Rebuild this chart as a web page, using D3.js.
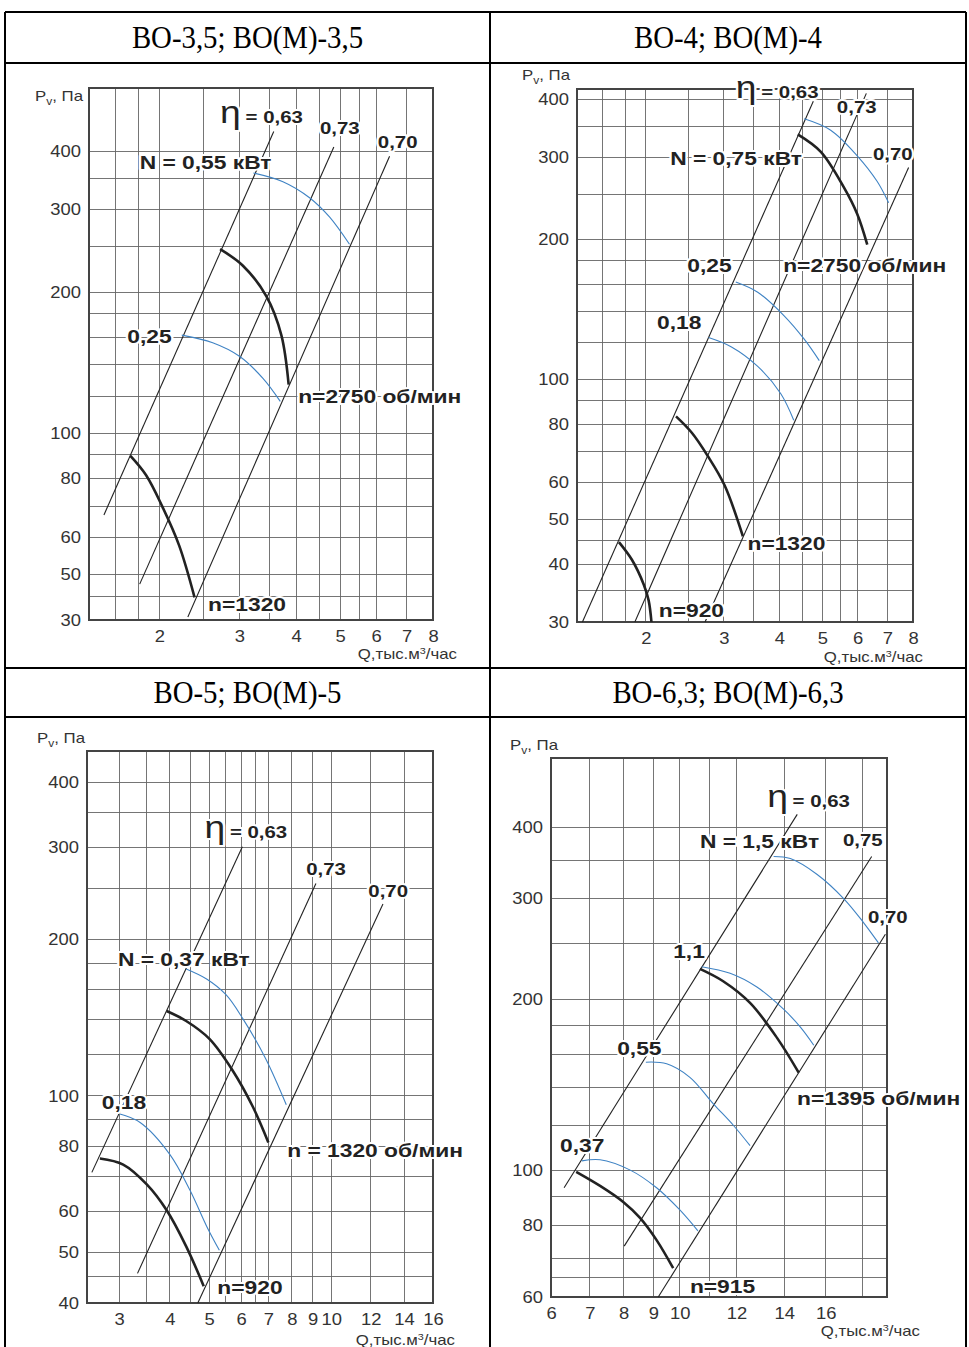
<!DOCTYPE html>
<html lang="ru">
<head>
<meta charset="utf-8">
<title>ВО — аэродинамические характеристики</title>
<script src="https://d3js.org/d3.v7.min.js"></script>
<style>
  body { margin: 0; background: #fff; }
  svg { display: block; }
  .grid line { stroke: #666; stroke-width: 0.9; shape-rendering: crispEdges; }
  .frame { fill: none; stroke: #444; stroke-width: 1.4; shape-rendering: crispEdges; }
  .eta { fill: none; stroke: #222; stroke-width: 1.1; }
  .pq { fill: none; stroke: #222; stroke-width: 2.6; }
  .pw { fill: none; stroke: #3f83c4; stroke-width: 1.1; }
  .tick text { font-family: "Liberation Sans", Arial, sans-serif; font-size: 16px; fill: #333; }
  .lbl { font-family: "Liberation Sans", Arial, sans-serif; font-weight: bold; fill: #222;
         stroke: #fff; stroke-width: 4; paint-order: stroke; stroke-linejoin: round; }
  .ttl { font-family: "Liberation Serif", "Times New Roman", serif; font-size: 32px; fill: #000; }
  .unit { font-family: "Liberation Sans", Arial, sans-serif; font-size: 14px; fill: #333; }
</style>
</head>
<body>
<script>

var titles = ["ВО-3,5; ВО(М)-3,5", "ВО-4; ВО(М)-4", "ВО-5; ВО(М)-5", "ВО-6,3; ВО(М)-6,3"];

// ВО-3,5
var p1XDomain = [1.4, 8];
var p1YDomain = [40, 545];
var p1XTicks = [2, 3, 4, 5, 6, 7, 8];
var p1YTicks = [40, 50, 60, 80, 100, 200, 300, 400];
var p1YTickLabels = ["30", "50", "60", "80", "100", "200", "300", "400"];
var p1XGrid = [1.6, 1.8, 2, 2.5, 3, 3.5, 4, 4.5, 5, 5.5, 6, 7];
var p1YGrid = [45, 50, 60, 70, 80, 90, 100, 120, 140, 160, 180, 200, 250, 300, 350, 400];
var p1Eta = [[[1.51, 67], [3.57, 440]], [[1.81, 47.7], [4.84, 408]], [[2.31, 40.6], [6.42, 390]]];
var p1Speed = [[[2.72, 247], [3.05, 228], [3.44, 196], [3.71, 162], [3.85, 127]],
               [[1.727, 89.5], [1.87, 81.4], [2.03, 69.8], [2.21, 57.7], [2.39, 44.7]]];
var p1Power = [[[3.22, 359], [3.74, 344], [4.28, 318], [4.74, 289], [5.24, 253]],
               [[2.24, 162], [2.62, 156], [3.0, 146], [3.38, 131], [3.69, 117]]];
var p1EtaText = ["0,63", "0,73", "0,70"];
var p1EtaAt = [[2.72, 472], [4.51, 449], [6.05, 419]];
var p1Text = ["N = 0,55 кВт", "0,25", "n=2750 об/мин", "n=1320"];
var p1TextAt = [[1.81, 378], [1.70, 161], [4.04, 120], [2.56, 43.2]];

// ВО-4
var p2XDomain = [1.4, 8];
var p2YDomain = [30, 422];
var p2XTicks = [2, 3, 4, 5, 6, 7, 8];
var p2YTicks = [30, 40, 50, 60, 80, 100, 200, 300, 400];
var p2YTickLabels = ["30", "40", "50", "60", "80", "100", "200", "300", "400"];
var p2XGrid = [1.6, 1.8, 2, 2.5, 3, 3.5, 4, 4.5, 5, 5.5, 6, 7];
var p2YGrid = [35, 40, 45, 50, 60, 70, 80, 90, 100, 120, 140, 160, 180, 200, 250, 300, 350, 400];
var p2Eta = [[[1.44, 30], [4.77, 397]], [[1.89, 30], [6.28, 413]], [[2.72, 30], [7.82, 286]]];
var p2Speed = [[[4.40, 337], [4.96, 309], [5.59, 259], [5.99, 227], [6.31, 195]],
               [[2.34, 83.2], [2.54, 76.7], [2.76, 68.3], [3.01, 59.1], [3.31, 45.9]],
               [[1.74, 44.6], [1.86, 40.9], [1.98, 36.1], [2.03, 33.4], [2.06, 30]]];
var p2Power = [[[4.55, 364], [5.22, 344], [5.99, 303], [6.64, 267], [7.05, 240]],
               [[3.19, 162], [3.575, 154], [4.10, 137], [4.55, 122], [4.92, 109.7]],
               [[2.77, 123], [3.12, 117.4], [3.575, 106.6], [4.03, 93.1], [4.31, 81.6]]];
var p2EtaText = ["0,63", "0,73", "0,70"];
var p2EtaAt = [[3.19, 417], [5.39, 386], [6.50, 306]];
var p2Text = ["N = 0,75 кВт", "0,25", "n=2750 об/мин", "0,18", "n=1320", "n=920"];
var p2TextAt = [[2.27, 300], [2.48, 176], [4.08, 176], [2.12, 132.5], [3.39, 44.4], [2.14, 31.8]];

// ВО-5
var p3XDomain = [2.5, 16];
var p3YDomain = [40, 460];
var p3XTicks = [3, 4, 5, 6, 7, 8, 9, 10, 12, 14, 16];
var p3YTicks = [40, 50, 60, 80, 100, 200, 300, 400];
var p3YTickLabels = ["40", "50", "60", "80", "100", "200", "300", "400"];
var p3XGrid = [3, 3.5, 4, 4.5, 5, 5.5, 6, 6.5, 7, 8, 9, 10, 12, 14];
var p3YGrid = [45, 50, 60, 70, 80, 90, 100, 120, 140, 160, 180, 200, 250, 300, 350, 400];
var p3Eta = [[[2.57, 71.3], [6.04, 301]], [[3.33, 45.6], [9.17, 256]], [[4.69, 40], [12.7, 233.7]]];
var p3Speed = [[[3.93, 145.6], [4.39, 139.3], [5.01, 128.7], [5.72, 111.8], [6.41, 95.3], [7.0, 81.4]],
               [[2.69, 75.8], [3.07, 73.8], [3.51, 67.6], [3.93, 60.3], [4.39, 51.4], [4.85, 43.1]]];
var p3Power = [[[4.39, 175.3], [4.93, 167.7], [5.51, 156.3], [6.06, 140.6], [6.9, 117.8], [7.75, 96.2]],
               [[3.0, 92.4], [3.38, 88.9], [4.0, 77.2], [4.49, 65.8], [4.93, 56.2], [5.3, 50.5]]];
var p3EtaText = ["0,63", "0,73", "0,70"];
var p3EtaAt = [[4.87, 321], [8.68, 273], [11.87, 248]];
var p3Text = ["N = 0,37 кВт", "0,18", "n = 1320 об/мин", "n=920"];
var p3TextAt = [[2.98, 183], [2.72, 97.3], [7.79, 78.7], [5.24, 42.9]];

// ВО-6,3
var p4XDomain = [6, 19.5];
var p4YDomain = [60, 530];
var p4XTicks = [6, 7, 8, 9, 10, 12, 14, 16];
var p4YTicks = [60, 80, 100, 200, 300, 400];
var p4YTickLabels = ["60", "80", "100", "200", "300", "400"];
var p4XGrid = [7, 8, 9, 10, 11, 12, 14, 16, 18];
var p4YGrid = [65, 70, 80, 90, 100, 120, 140, 160, 180, 200, 250, 300, 350, 400];
var p4Eta = [[[6.32, 93.3], [14.6, 422]], [[8.02, 73.7], [18.56, 356]], [[9.18, 60], [19.4, 260]]];
var p4Speed = [[[10.67, 226], [11.5, 215], [12.54, 197], [13.68, 171], [14.67, 148.6]],
               [[6.63, 99.5], [7.29, 94], [7.99, 88.1], [8.54, 82.6], [9.12, 75.5], [9.74, 67.4]]];
var p4Power = [[[13.53, 356], [14.28, 353], [15.57, 331], [16.97, 300], [18.1, 272], [18.97, 251]],
               [[10.73, 228], [11.76, 222], [12.82, 210], [13.97, 192], [14.75, 178.6], [15.4, 166]],
               [[8.74, 155], [9.49, 154], [10.33, 145.8], [11.14, 131], [11.89, 120], [12.54, 110.6]],
               [[6.78, 104], [7.29, 104.5], [8.2, 100.3], [9.12, 93.3], [10, 85.3], [10.6, 78.4]]];
var p4EtaText = ["0,63", "0,75", "0,70"];
var p4EtaAt = [[13.25, 446], [16.92, 380], [18.34, 279]];
var p4Text = ["N = 1,5 кВт", "1,1", "0,55", "n=1395 об/мин", "0,37", "n=915"];
var p4TextAt = [[10.67, 379], [9.74, 243], [7.8, 164], [14.59, 134], [6.22, 111], [10.33, 62.7]];


var W = 969, H = 1347;
var SX = 1.15; // the sheet's lettering is a bit wide

var svg = d3.select("body").append("svg").attr("width", W).attr("height", H);

// table
var T = {left: 5, right: 966, mid: 490, top: 12, h1: 63, h2a: 668, h2b: 717, bottom: 1347};
var tbl = svg.append("g").attr("stroke", "#000").attr("stroke-width", 2.6).attr("shape-rendering", "crispEdges");
[[T.left, T.top, T.right, T.top], [T.left, T.h1, T.right, T.h1], [T.left, T.h2a, T.right, T.h2a],
 [T.left, T.h2b, T.right, T.h2b], [T.left, T.top, T.left, T.bottom], [T.mid, T.top, T.mid, T.bottom],
 [T.right, T.top, T.right, T.bottom]].forEach(function(s) {
  tbl.append("line").attr("x1", s[0]).attr("y1", s[1]).attr("x2", s[2]).attr("y2", s[3]);
});

var titleAt = [[(T.left + T.mid) / 2, (T.top + T.h1) / 2], [(T.mid + T.right) / 2, (T.top + T.h1) / 2],
               [(T.left + T.mid) / 2, (T.h2a + T.h2b) / 2], [(T.mid + T.right) / 2, (T.h2a + T.h2b) / 2]];
titles.forEach(function(t, i) {
  svg.append("g").attr("transform", "translate(" + titleAt[i][0] + "," + titleAt[i][1] + ")")
    .append("text").attr("class", "ttl").attr("transform", "scale(0.9,1)")
    .attr("text-anchor", "middle").attr("dominant-baseline", "central")
    .text(t);
});

function makeX(dom, x0, x1) {
  var lo = dom[0], hi = dom[1];
  if (hi <= 10) return d3.scaleLog().domain([lo, hi]).range([x0, x1]);
  // on these sheets the decade above 10 is printed wider
  var a = Math.log10(10 / lo), b = 1.23 * Math.log10(hi / 10);
  var xm = x0 + (x1 - x0) * a / (a + b);
  return d3.scaleLog().domain([lo, 10, hi]).range([x0, xm, x1]);
}

function wideText(g, x, y, sx) {
  return g.append("g").attr("transform", "translate(" + x + "," + y + ")")
    .append("text").attr("transform", "scale(" + (sx || SX) + ",1)");
}

function drawPanel(d, L) {
  var g = svg.append("g");
  var x = makeX(d.xDomain, L.x0, L.x1);
  var y = d3.scaleLog().domain(d.yDomain).range([L.y1, L.y0]);

  var grid = g.append("g").attr("class", "grid");
  grid.selectAll(".v").data(d.xGrid).enter().append("line")
    .attr("x1", function(v) { return x(v); }).attr("x2", function(v) { return x(v); })
    .attr("y1", L.y0).attr("y2", L.y1);
  grid.selectAll(".h").data(d.yGrid).enter().append("line")
    .attr("y1", function(v) { return y(v); }).attr("y2", function(v) { return y(v); })
    .attr("x1", L.x0).attr("x2", L.x1);

  g.append("rect").attr("class", "frame")
    .attr("x", L.x0).attr("y", L.y0).attr("width", L.x1 - L.x0).attr("height", L.y1 - L.y0);

  var line = d3.line().x(function(p) { return x(p[0]); }).y(function(p) { return y(p[1]); });
  var curve = d3.line().x(function(p) { return x(p[0]); }).y(function(p) { return y(p[1]); })
    .curve(d3.curveCatmullRom.alpha(0.5));

  g.selectAll(".eta").data(d.eta).enter().append("path").attr("class", "eta").attr("d", line);
  g.selectAll(".pw").data(d.power).enter().append("path").attr("class", "pw").attr("d", curve);
  g.selectAll(".pq").data(d.speed).enter().append("path").attr("class", "pq").attr("d", curve);

  // axes
  var ya = g.append("g").attr("transform", "translate(" + L.x0 + ",0)")
    .call(d3.axisLeft(y).tickValues(d.yTicks).tickSize(0).tickPadding(7)
      .tickFormat(function(v, i) { return d.yTickLabels[i]; }));
  ya.select(".domain").remove();
  ya.selectAll(".tick text").attr("transform", "scale(" + SX + ",1)");

  var xa = g.append("g").attr("transform", "translate(0," + L.y1 + ")")
    .call(d3.axisBottom(x).tickValues(d.xTicks).tickSize(0).tickPadding(11)
      .tickFormat(function(v) { return String(v); }));
  xa.select(".domain").remove();
  xa.selectAll(".tick text").attr("transform", "scale(" + SX + ",1)");

  // axis names
  var pv = wideText(g, L.x0 + L.pdx, L.y0 + L.pdy, 1.2).attr("class", "unit")
    .attr("text-anchor", "end").attr("dy", "0.35em");
  pv.append("tspan").text("P");
  pv.append("tspan").attr("font-size", 10).attr("dy", 4).text("v");
  pv.append("tspan").attr("dy", -4).text(", Па");

  var qt = wideText(g, L.x1 + L.qdx, L.y1 + L.qdy, 1.2).attr("class", "unit")
    .attr("text-anchor", "end").attr("dy", "0.35em");
  qt.append("tspan").text("Q,тыс.м");
  qt.append("tspan").attr("font-size", 9).attr("dy", -5).text("3");
  qt.append("tspan").attr("dy", 5).text("/час");

  // efficiency labels
  d.etaText.forEach(function(t, i) {
    var at = d.etaAt[i];
    var tx = wideText(g, x(at[0]), y(at[1]), 1.2).attr("class", "lbl")
      .attr("font-size", 17).attr("dy", "0.36em");
    if (i === 0) {
      tx.append("tspan").attr("font-size", 31).attr("font-weight", "normal").text("η");
      tx.append("tspan").attr("dx", 4).text("= " + t);
    } else {
      tx.text(t);
    }
  });

  // curve labels
  d.text.forEach(function(t, i) {
    var at = d.textAt[i];
    wideText(g, x(at[0]), y(at[1]), 1.2).attr("class", "lbl")
      .attr("font-size", 19).attr("dy", "0.36em").text(t);
  });
}

var layouts = [
  {x0: 89, x1: 433, y0: 88, y1: 620, pdx: -6, pdy: 8, qdx: 24, qdy: 34},
  {x0: 577, x1: 913, y0: 89, y1: 622, pdx: -7, pdy: -14, qdx: 10, qdy: 35},
  {x0: 87, x1: 433, y0: 751, y1: 1303, pdx: -2, pdy: -13, qdx: 22, qdy: 37},
  {x0: 551, x1: 887, y0: 758, y1: 1297, pdx: 7, pdy: -13, qdx: 33, qdy: 34}
];

var panels = [
  {xDomain: p1XDomain, yDomain: p1YDomain, xTicks: p1XTicks, yTicks: p1YTicks, yTickLabels: p1YTickLabels,
   xGrid: p1XGrid, yGrid: p1YGrid, eta: p1Eta, speed: p1Speed, power: p1Power,
   etaText: p1EtaText, etaAt: p1EtaAt, text: p1Text, textAt: p1TextAt},
  {xDomain: p2XDomain, yDomain: p2YDomain, xTicks: p2XTicks, yTicks: p2YTicks, yTickLabels: p2YTickLabels,
   xGrid: p2XGrid, yGrid: p2YGrid, eta: p2Eta, speed: p2Speed, power: p2Power,
   etaText: p2EtaText, etaAt: p2EtaAt, text: p2Text, textAt: p2TextAt},
  {xDomain: p3XDomain, yDomain: p3YDomain, xTicks: p3XTicks, yTicks: p3YTicks, yTickLabels: p3YTickLabels,
   xGrid: p3XGrid, yGrid: p3YGrid, eta: p3Eta, speed: p3Speed, power: p3Power,
   etaText: p3EtaText, etaAt: p3EtaAt, text: p3Text, textAt: p3TextAt},
  {xDomain: p4XDomain, yDomain: p4YDomain, xTicks: p4XTicks, yTicks: p4YTicks, yTickLabels: p4YTickLabels,
   xGrid: p4XGrid, yGrid: p4YGrid, eta: p4Eta, speed: p4Speed, power: p4Power,
   etaText: p4EtaText, etaAt: p4EtaAt, text: p4Text, textAt: p4TextAt}
];

panels.forEach(function(p, i) { drawPanel(p, layouts[i]); });

</script>
</body>
</html>
